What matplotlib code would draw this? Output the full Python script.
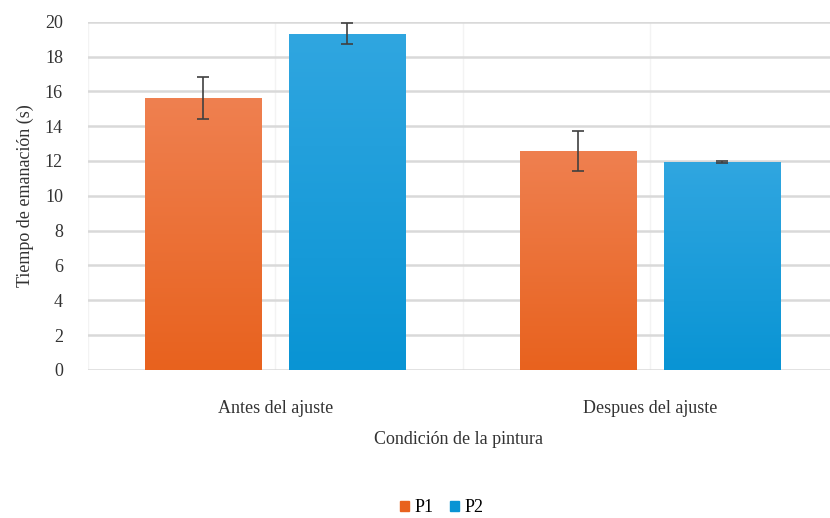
import matplotlib
matplotlib.use("Agg")
import matplotlib.pyplot as plt
import numpy as np
from matplotlib.colors import LinearSegmentedColormap

categories = ["Antes del ajuste", "Despues del ajuste"]
series = ["P1", "P2"]
p1_values = [15.6, 12.6]
p2_values = [19.3, 11.95]
p1_err = [1.2, 1.15]
p2_err = [0.6, 0.05]
yticks = [0, 2, 4, 6, 8, 10, 12, 14, 16, 18, 20]

plt.rcParams['font.family'] = ['Liberation Serif', 'DejaVu Serif']

fig = plt.figure(figsize=(8.3, 5.18), dpi=100)
ax = fig.add_axes([0.106, 0.286, 0.894, 0.672])

x = np.arange(len(categories))
width = 0.31
offset = 0.192

colors = {"P1": ("#EF8050", "#E8621E"), "P2": ("#30A6E0", "#0994D4")}

def gradient_bars(bars, top_col, bot_col):
    cmap = LinearSegmentedColormap.from_list("g", [bot_col, top_col])
    for b in bars:
        xx, yy = b.get_x(), b.get_y()
        w, h = b.get_width(), b.get_height()
        grad = np.linspace(0, 1, 256).reshape(-1, 1)
        im = ax.imshow(grad, extent=[xx, xx + w, yy, yy + h], origin="lower",
                       cmap=cmap, aspect="auto", zorder=2)
        im.set_clip_path(b)

b1 = ax.bar(x - offset, p1_values, width, yerr=p1_err, label="P1",
            color=colors["P1"][1], zorder=2,
            error_kw=dict(ecolor="#404040", elinewidth=1.2, capsize=4, capthick=1.2, zorder=3))
b2 = ax.bar(x + offset, p2_values, width, yerr=p2_err, label="P2",
            color=colors["P2"][1], zorder=2,
            error_kw=dict(ecolor="#404040", elinewidth=1.2, capsize=4, capthick=1.2, zorder=3))
gradient_bars(b1, *colors["P1"])
gradient_bars(b2, *colors["P2"])

ax.set_xlim(-0.5, 1.48)
ax.set_ylim(0, 20)
ax.set_yticks(yticks)
ax.set_xticks(x)
ax.set_xticklabels(categories, fontsize=13)
ax.tick_params(axis='y', labelsize=13, length=0, pad=18, labelcolor="#333333")
ax.tick_params(axis='x', length=0, pad=22, labelcolor="#333333")
ax.yaxis.grid(True, color="#d9d9d9", linewidth=1.8, zorder=0)
for xv in [-0.5, 0, 0.5, 1.0]:
    ax.axvline(xv, color="#f3f3f3", linewidth=1.0, zorder=0)
for s in ax.spines.values():
    s.set_visible(False)

ax.set_ylabel("Tiempo de emanación (s)", fontsize=13, color="#333333", labelpad=8)
ax.set_xlabel("Condición de la pintura", fontsize=13, color="#333333", labelpad=10)

handles = [plt.Rectangle((0, 0), 1, 1, color=colors[s][1]) for s in series]
fig.legend(handles, series, loc="center", bbox_to_anchor=(0.532, 0.02), ncol=2,
           frameon=False, fontsize=13, handlelength=0.5, handleheight=0.5,
           handletextpad=0.3, columnspacing=0.9)

fig.savefig("out.png", dpi=100)
